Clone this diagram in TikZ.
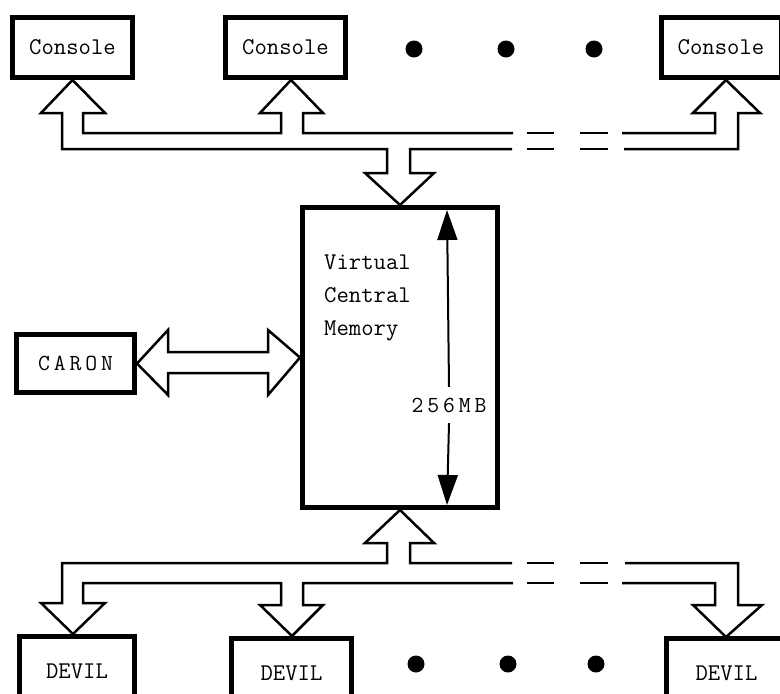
\documentclass[tikz,border=0pt]{standalone}
\usepackage{fontspec}
\setmonofont{Latin Modern Mono}
\newfontfamily\spacedtt{Latin Modern Mono}[LetterSpace=17]
\usetikzlibrary{arrows.meta, positioning}
\tikzset{
    unit/.style={rectangle, draw, line width=5pt, minimum width=120pt, minimum height=60pt, inner sep=0pt, font=\ttfamily\fontsize{24}{26}\selectfont, align=center},
    store/.style={rectangle, draw, line width=5pt, minimum width=195pt, minimum height=300pt},
    wide/.style={font=\spacedtt\fontsize{23}{26}\selectfont},
    bus/.style={line width=2.5pt, line join=miter},
    dot/.style={circle, fill, inner sep=0pt, minimum size=17pt},
    span/.style={line width=2pt, -{Triangle[width=20pt,length=30pt]}}
}

\begin{document}
\begin{tikzpicture}[x=1pt, y=-1pt]
    \useasboundingbox (0,0) rectangle (780,694);
    \node (con1) [unit] at (72.5,47.5) {Console};
    \node (con2) [unit] at (285.5,47.5) {Console};
    \node (con3) [unit] at (721,47.5) {Console};
    \node (d1) [dot] at (414,49) {};
    \node (d2) [dot] at (506,49) {};
    \node (d3) [dot] at (594,49) {};

    \node (mem) [store] at (400,357.5) {};
    \node (txt) [anchor=north west, align=left, inner sep=0pt, font=\ttfamily\fontsize{24}{33}\selectfont] at (324,255) {Virtual\\Central\\Memory};
    \node (cap) [wide, inner sep=0pt, minimum height=36pt] at (449,405) {256MB};
    \draw [span] (cap.north) -- (447,210);
    \draw [span] (cap.south) -- (447,505);

    \node (caron) [unit, wide, minimum width=118pt, minimum height=58pt] at (75.5,363.5) {CARON};
    \draw [bus] (caron.east) -- (168,330) -- (168,352) -- (268,352) -- (268,330) -- (mem.west)
        -- (268,395) -- (268,373) -- (168,373) -- (168,395) -- cycle;

    \node (dev1) [unit, minimum width=115pt, minimum height=70pt] at (77,671.5) {DEVIL};
    \node (dev2) [unit, minimum height=70pt] at (291.5,673.5) {DEVIL};
    \node (dev3) [unit, minimum height=70pt] at (726.5,673.5) {DEVIL};
    \node (d4) [dot] at (416,664) {};
    \node (d5) [dot] at (508,664) {};
    \node (d6) [dot] at (596,664) {};

    \draw [bus] (512,149) -- (410,149) -- (410,173) -- (434,173) -- (mem.north) -- (365,173) -- (387,173)
        -- (387,149) -- (62,149) -- (62,113) -- (41,113) -- (con1.south) -- (105,113) -- (83,113)
        -- (83,133) -- (281,133) -- (281,113) -- (260,113) -- (291,80) -- (323,113) -- (303,113)
        -- (303,133) -- (513,133);
    \draw [bus] (622,133) -- (715,133) -- (715,113) -- (693,113) -- (726,80) -- (760,113)
        -- (738,113) -- (738,149) -- (624,149);
    \draw [bus] (512,563) -- (410,563) -- (410,543) -- (434,543) -- (mem.south) -- (365,543) -- (387,543)
        -- (387,563) -- (62,563) -- (62,603) -- (41,603) -- (73,634) -- (105,603) -- (83,603)
        -- (83,583) -- (281,583) -- (281,605) -- (260,605) -- (292,636) -- (323,605) -- (303,605)
        -- (303,583) -- (513,583);
    \draw [bus] (622,583) -- (715,583) -- (715,605) -- (693,605) -- (726,637) -- (762,605)
        -- (738,605) -- (738,563) -- (625,563);
    \foreach \y in {133,149,563,583} {
        \draw [bus] (527,\y) -- (554,\y);
        \draw [bus] (580,\y) -- (608,\y);
    }
\end{tikzpicture}
\end{document}
